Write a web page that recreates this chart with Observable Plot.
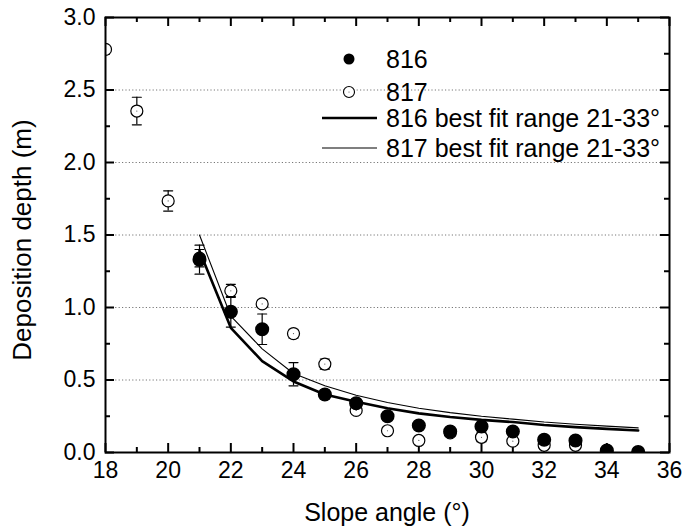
<!DOCTYPE html>
<html>
<head>
<meta charset="utf-8">
<script src="https://cdn.jsdelivr.net/npm/d3@7"></script>
<script src="https://cdn.jsdelivr.net/npm/@observablehq/plot@0.6"></script>
<style>
  html, body { margin: 0; padding: 0; background: #fff; }
  #chart { width: 687px; height: 529px; }
</style>
</head>
<body>
<div id="chart"></div>
<script>
// ---- data ----
const angles817 = [18, 19, 20, 21, 22, 23, 24, 25, 26, 27, 28, 29, 30, 31, 32, 33];
const depth817  = [2.78, 2.355, 1.735, 1.34, 1.115, 1.025, 0.82, 0.61, 0.29, 0.15, 0.083, 0.135, 0.105, 0.078, 0.05, 0.05];
const err817    = [0, 0.095, 0.07, 0.06, 0.045, 0.025, 0.03, 0.035, 0.02, 0.02, 0.02, 0.02, 0.03, 0.02, 0.02, 0.02];

const angles816 = [21, 22, 23, 24, 25, 26, 27, 28, 29, 30, 31, 32, 33, 34, 35];
const depth816  = [1.33, 0.97, 0.85, 0.54, 0.40, 0.34, 0.25, 0.186, 0.145, 0.18, 0.145, 0.088, 0.083, 0.014, 0.003];
const err816    = [0.1, 0.105, 0.105, 0.08, 0.03, 0.02, 0.02, 0.015, 0.02, 0.02, 0.02, 0.02, 0.02, 0.02, 0.01];

const fitAngles = [21, 22, 23, 24, 25, 26, 27, 28, 29, 30, 31, 32, 33, 34, 35];
const fit816    = [1.39, 0.86, 0.63, 0.49, 0.40, 0.35, 0.305, 0.27, 0.245, 0.225, 0.21, 0.19, 0.175, 0.163, 0.152];
const fit817    = [1.50, 0.94, 0.715, 0.545, 0.46, 0.395, 0.345, 0.305, 0.275, 0.25, 0.23, 0.21, 0.195, 0.182, 0.17];

const xMajor = [18, 20, 22, 24, 26, 28, 30, 32, 34, 36];
const xMinor = [19, 21, 23, 25, 27, 29, 31, 33, 35];
const yMajor = [0, 0.5, 1.0, 1.5, 2.0, 2.5, 3.0];
const yMinor = [0.25, 0.75, 1.25, 1.75, 2.25, 2.75];
const yGrid  = [0.5, 1.0, 1.5, 2.0, 2.5];

const xTitle = "Slope angle (°)";
const yTitle = "Deposition depth (m)";
const legendLabels = ["816", "817", "816 best fit range 21-33°", "817 best fit range 21-33°"];

// ---- layout ----
const W = 687, H = 529, ML = 105, MR = 18, MT = 17, MB = 77;
const PW = W - ML - MR, PH = H - MT - MB;
const XD = [18, 36], YD = [0, 3];

// ---- tables ----
const s817 = angles817.map((a, i) => ({a, d: depth817[i], lo: depth817[i] - err817[i], hi: depth817[i] + err817[i], e: err817[i]}));
const s816 = angles816.map((a, i) => ({a, d: depth816[i], lo: depth816[i] - err816[i], hi: depth816[i] + err816[i], e: err816[i]}));
const f816 = fitAngles.map((a, i) => ({a, d: fit816[i]}));
const f817 = fitAngles.map((a, i) => ({a, d: fit817[i]}));

const FONT = "'Liberation Sans', Arial, Helvetica, sans-serif";

const capShape = {draw(context, l) { context.moveTo(-l / 2, 0); context.lineTo(l / 2, 0); }};

function errorBars(data) {
  const withErr = data.filter(d => d.e > 0);
  return [
    Plot.ruleX(withErr, {x: "a", y1: "lo", y2: "hi", stroke: "black", strokeWidth: 1.2, clip: true}),
    Plot.vector(withErr, {x: "a", y: "lo", length: 9, anchor: "start", shape: capShape, stroke: "black", strokeWidth: 1.2, clip: true}),
    Plot.vector(withErr, {x: "a", y: "hi", length: 9, anchor: "start", shape: capShape, stroke: "black", strokeWidth: 1.2, clip: true})
  ];
}

// inward ticks as short rules (tick length converted from pixels to data units)
function ticksX(values, len) {
  const dy = len / PH * (YD[1] - YD[0]);
  const rows = [];
  values.forEach(v => {
    rows.push({x: v, y1: YD[0], y2: YD[0] + dy});
    rows.push({x: v, y1: YD[1], y2: YD[1] - dy});
  });
  return Plot.ruleX(rows, {x: "x", y1: "y1", y2: "y2", stroke: "black", strokeWidth: 2});
}
function ticksY(values, len) {
  const dx = len / PW * (XD[1] - XD[0]);
  const rows = [];
  values.forEach(v => {
    rows.push({y: v, x1: XD[0], x2: XD[0] + dx});
    rows.push({y: v, x1: XD[1], x2: XD[1] - dx});
  });
  return Plot.ruleY(rows, {y: "y", x1: "x1", x2: "x2", stroke: "black", strokeWidth: 2});
}

const chart = Plot.plot({
  width: W,
  height: H,
  marginLeft: ML,
  marginRight: MR,
  marginTop: MT,
  marginBottom: MB,
  style: {fontFamily: FONT},
  x: {domain: XD},
  y: {domain: YD},
  marks: [
    Plot.gridY(yGrid, {stroke: "#777", strokeOpacity: 1, strokeDasharray: "1.2,2.2", strokeWidth: 1}),
    Plot.axisX({ticks: xMajor, tickSize: 0, tickPadding: 9, fontSize: 23, label: null, tickFormat: d => String(d), fill: "black"}),
    Plot.axisY({ticks: yMajor, tickSize: 0, tickPadding: 10, fontSize: 23, label: null, tickFormat: d3.format(".1f"), fill: "black"}),
    ticksX(xMajor, 9),
    ticksX(xMinor, 5),
    ticksY(yMajor, 9),
    ticksY(yMinor, 5),
    Plot.line(f817, {x: "a", y: "d", stroke: "black", strokeWidth: 1.1}),
    Plot.line(f816, {x: "a", y: "d", stroke: "black", strokeWidth: 2.6}),
    ...errorBars(s817),
    Plot.dot(s817, {x: "a", y: "d", r: 6, fill: "white", stroke: "black", strokeWidth: 1.2, clip: true}),
    Plot.dot(s817, {x: "a", y: "d", r: 0.6, fill: "#555", stroke: null, clip: true}),
    ...errorBars(s816),
    Plot.dot(s816, {x: "a", y: "d", r: 6.3, fill: "black", stroke: "black", clip: true}),
    Plot.frame({stroke: "black", strokeWidth: 2})
  ]
});

const svg = d3.select(chart);
const sx = chart.scale("x");
const cx = (sx.range[0] + sx.range[1]) / 2;

// axis titles
svg.append("text")
  .attr("x", cx).attr("y", 521)
  .attr("text-anchor", "middle")
  .style("font-family", FONT).style("font-size", "25px").attr("fill", "black")
  .text(xTitle);
svg.append("text")
  .attr("transform", "translate(31,240) rotate(-90)")
  .attr("text-anchor", "middle")
  .style("font-family", FONT).style("font-size", "26px").attr("fill", "black")
  .text(yTitle);

// legend
const lg = svg.append("g").style("font-family", FONT).style("font-size", "25px").attr("text-anchor", "start");
const rows = [59, 92, 118, 148];
const textX = 386;
lg.append("circle").attr("cx", 349).attr("cy", rows[0]).attr("r", 5.5).attr("fill", "black");
lg.append("circle").attr("cx", 349).attr("cy", rows[1]).attr("r", 5.5).attr("fill", "white").attr("stroke", "black").attr("stroke-width", 1.1);
lg.append("circle").attr("cx", 349).attr("cy", rows[1]).attr("r", 0.6).attr("fill", "#555");
lg.append("line").attr("x1", 322).attr("x2", 377).attr("y1", rows[2]).attr("y2", rows[2]).attr("stroke", "black").attr("stroke-width", 2.6);
lg.append("line").attr("x1", 322).attr("x2", 377).attr("y1", rows[3]).attr("y2", rows[3]).attr("stroke", "black").attr("stroke-width", 1.1);
legendLabels.forEach((t, i) => {
  lg.append("text").attr("x", textX).attr("y", rows[i]).attr("dy", "0.36em").attr("text-anchor", "start").attr("fill", "black").text(t);
});

document.getElementById("chart").appendChild(chart);
</script>
</body>
</html>
